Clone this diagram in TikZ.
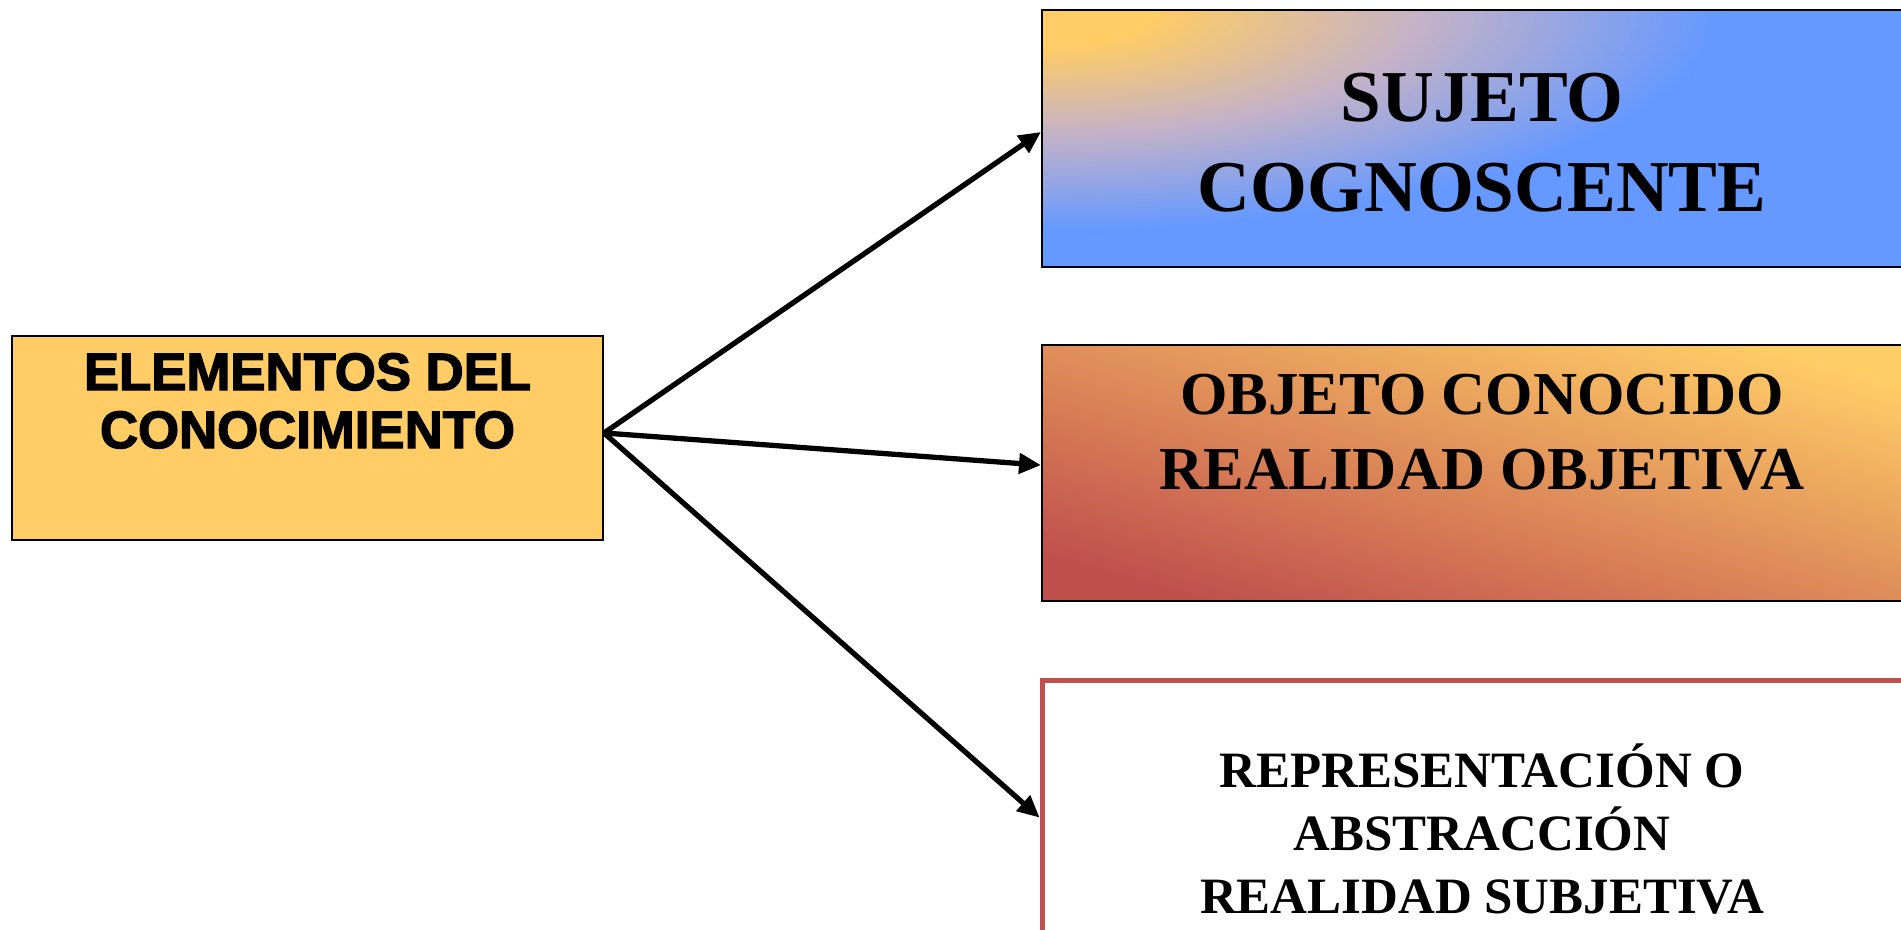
\documentclass[tikz,border=0pt]{standalone}
\usepackage{fontspec}
\setmainfont{Liberation Serif}
\newfontfamily\elemfont[BoldFeatures={FakeBold=2.5}]{Liberation Sans}
\usetikzlibrary{arrows.meta,positioning}
\definecolor{boxgold}{HTML}{FFCC66}
\definecolor{boxlilac}{HTML}{C4B2C8}
\definecolor{boxblue}{HTML}{6699FF}
\definecolor{boxbrick}{HTML}{C0504D}
\pgfdeclareradialshading{goldglow}{\pgfpointorigin}{color(0bp)=(boxgold); color(3bp)=(boxgold); color(10bp)=(boxlilac); color(17.68bp)=(boxblue); color(50bp)=(boxblue)}
\newcommand{\boxtext}[3]{\raisebox{#1}[\height][\depth]{#2\begin{tabular}{@{}c@{}}#3\end{tabular}}}

\begin{document}
\begin{tikzpicture}[
  box/.style={draw=black, line width=0.6pt, minimum width=8.8cm, inner sep=0pt},
  link/.style={line width=1.5pt, -{Triangle[length=0.22cm,width=0.2cm]}}
]
\useasboundingbox (0,0) rectangle (19.01,9.30);
\node[draw, line width=0.6pt, fill=boxgold, minimum width=5.91cm, minimum height=2.04cm, inner sep=0pt] (elem) at (3.075,4.92)
  {\boxtext{0.305cm}{\elemfont\bfseries\fontsize{15}{16.5}\selectfont}{ELEMENTOS DEL\\CONOCIMIENTO}};
\node[box, minimum height=2.57cm, anchor=west, fill=boxblue,
  path picture={\shade[shading=goldglow] (path picture bounding box.north west) ellipse [x radius=9.5cm, y radius=3.1cm];}] (sujeto) at (10.41,7.915)
  {\boxtext{-0.10cm}{\bfseries\fontsize{20.8}{25.6}\selectfont}{SUJETO\\COGNOSCENTE}};
\node[box, minimum height=2.56cm, below=0.76cm of sujeto, top color=boxgold, bottom color=boxbrick, shading angle=-16] (objeto)
  {\boxtext{0.36cm}{\bfseries\fontsize{17.35}{21.3}\selectfont}{OBJETO CONOCIDO\\REALIDAD OBJETIVA}};
\node[box, draw=boxbrick, line width=1.4pt, fill=white, minimum height=3.03cm, below=0.76cm of objeto] (repr)
  {\boxtext{-0.055cm}{\bfseries\fontsize{14.5}{17.9}\selectfont}{REPRESENTACIÓN O\\ABSTRACCIÓN\\REALIDAD SUBJETIVA}};
\draw[link] ([yshift=0.05cm]elem.east) -- ([yshift=0.065cm]sujeto.west);
\draw[link] ([yshift=0.05cm]elem.east) -- ([yshift=0.08cm]objeto.west);
\draw[link] ([yshift=0.05cm]elem.east) -- ([yshift=0.145cm]repr.west);
\end{tikzpicture}
\end{document}
